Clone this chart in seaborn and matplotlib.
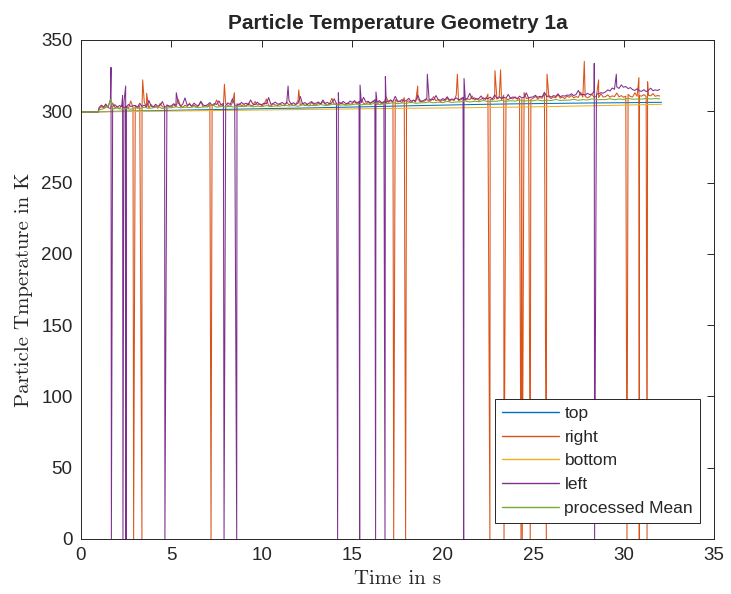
import numpy as np
import pandas as pd
import seaborn as sns
from matplotlib import pyplot as plt

# sensor names + matlab default colours
sensors = ["top", "right", "bottom", "left", "processed Mean"]
colors = ["#0072BD", "#D95319", "#EDB120", "#7E2F8E", "#77AC30"]

# flat start before the measurement kicks in
start_t = [0.0, 0.95]
start_v = [299.5, 299.5]

# smooth sensors (top / bottom)
smooth_t = [1.0, 2, 4, 6, 8, 10, 12, 14, 16, 18, 20, 22, 24, 26, 28, 30, 32.1]
top_v = [299.6, 300.0, 300.4, 300.9, 301.3, 301.8, 302.2, 302.7, 303.2,
         303.8, 304.3, 304.8, 305.2, 305.5, 305.8, 306.0, 306.3]
bottom_v = [299.5, 299.7, 300.0, 300.3, 300.6, 300.9, 301.2, 301.5, 301.8,
            302.1, 302.3, 302.6, 302.9, 303.3, 303.8, 304.3, 304.9]

# noisy sensors, one sample every 0.125 s from 1.0 s to 32.0 s
right_v = [
    301.8, 303.4, 302.1, 304.0, 302.5, 301.9, 305.8, 302.6, 303.1, 301.7, 304.4, 302.3, 303.6, 302.0, 307.2, 302.8,
    303.5, 302.2, 304.1, 302.7, 306.3, 303.0, 302.4, 304.8, 302.9, 303.7, 302.1, 305.5, 303.2, 302.6, 304.0, 303.3,
    302.9, 304.6, 303.1, 308.4, 303.6, 302.8, 304.2, 303.4, 305.7, 303.0, 304.4, 302.9, 303.8, 306.6, 303.2, 304.1,
    303.4, 305.0, 303.8, 304.5, 307.9, 303.6, 304.9, 303.5, 305.3, 304.0, 303.3, 306.1, 304.2, 303.7, 305.4, 303.9,
    304.6, 303.5, 305.8, 304.1, 303.7, 306.9, 304.3, 305.0, 303.8, 304.7, 308.6, 304.0, 303.6, 305.2, 304.4, 303.9,
    305.1, 304.2, 303.8, 306.4, 304.5, 305.3, 303.9, 304.8, 307.4, 304.3, 305.6, 304.0, 304.9, 303.7, 306.2, 304.6,
    304.4, 305.8, 304.7, 306.7, 305.0, 304.2, 305.5, 309.1, 304.8, 305.3, 304.5, 306.0, 305.1, 304.3, 305.9, 304.9,
    305.4, 306.8, 305.0, 305.9, 308.3, 305.6, 304.9, 306.2, 305.3, 307.1, 305.7, 304.8, 306.5, 305.2, 306.0, 310.1,
    306.3, 307.5, 306.1, 308.2, 306.5, 307.0, 306.2, 309.6, 306.8, 307.3, 305.9, 307.8, 306.4, 308.5, 306.7, 307.1,
    307.2, 308.4, 306.9, 307.7, 310.3, 307.4, 308.1, 306.8, 307.9, 307.3, 309.2, 307.0, 308.3, 307.5, 311.4, 307.6,
    308.0, 309.1, 307.7, 308.6, 308.1, 310.8, 307.9, 308.9, 307.6, 308.4, 309.5, 308.2, 312.0, 308.5, 307.9, 309.0,
    308.5, 309.6, 308.2, 311.3, 308.8, 308.1, 309.4, 308.6, 310.2, 308.4, 309.0, 308.7, 313.1, 308.9, 309.3, 308.3,
    309.1, 310.4, 308.8, 309.6, 309.2, 312.5, 309.0, 309.8, 308.9, 310.1, 309.4, 311.7, 309.2, 309.9, 308.9, 310.6,
    309.8, 311.1, 309.5, 310.3, 309.7, 313.4, 309.9, 310.6, 309.4, 310.2, 311.9, 309.8, 310.5, 309.6, 312.3, 310.0,
    310.2, 311.5, 309.9, 310.8, 310.3, 312.8, 310.1, 311.0, 309.8, 310.6, 311.8, 310.4, 310.0, 313.0, 310.5, 310.9,
    310.6, 311.7, 310.3, 311.2, 310.8, 312.4, 310.5, 311.0, 310.7]
left_v = [
    302.6, 304.3, 303.0, 305.1, 302.8, 308.2, 303.4, 304.6, 302.9, 304.0, 303.2, 306.5, 302.7, 304.8, 303.3, 303.9,
    304.1, 302.9, 305.6, 303.4, 304.3, 303.0, 307.6, 303.7, 302.8, 304.9, 303.5, 304.2, 306.8, 303.1, 304.5, 303.6,
    303.8, 305.3, 304.0, 306.0, 303.6, 305.0, 309.4, 304.1, 304.8, 303.7, 305.7, 304.3, 303.9, 307.0, 304.5, 303.8,
    304.6, 306.1, 304.2, 305.4, 304.8, 307.3, 304.4, 305.6, 304.1, 305.9, 304.7, 308.8, 304.5, 305.2, 304.3, 306.2,
    304.9, 305.7, 304.4, 307.9, 305.1, 304.6, 306.3, 305.0, 304.7, 305.8, 305.2, 309.6, 304.8, 305.5, 306.4, 305.0,
    305.3, 306.2, 304.9, 305.8, 307.5, 305.1, 306.0, 304.8, 305.6, 310.4, 305.2, 306.1, 304.9, 305.7, 306.8, 305.4,
    305.7, 306.5, 305.2, 307.9, 305.4, 306.3, 305.0, 306.0, 308.7, 305.5, 306.4, 305.3, 306.9, 305.6, 305.1, 307.2,
    306.2, 307.4, 305.9, 306.8, 306.1, 309.8, 306.4, 307.0, 305.8, 306.6, 308.1, 306.3, 307.5, 306.0, 306.7, 306.2,
    307.1, 308.0, 306.8, 310.5, 307.3, 306.9, 308.2, 307.0, 307.6, 309.1, 306.9, 307.8, 307.2, 311.2, 307.4, 307.0,
    308.0, 309.1, 307.8, 308.6, 307.9, 311.0, 308.3, 307.7, 308.9, 308.1, 310.2, 307.9, 308.6, 308.2, 309.4, 308.0,
    308.7, 309.8, 308.3, 309.2, 312.6, 308.6, 309.4, 308.5, 309.0, 310.7, 308.4, 309.3, 308.8, 309.9, 308.6, 311.5,
    309.2, 310.1, 308.9, 309.7, 309.3, 311.8, 309.1, 310.0, 309.5, 308.9, 310.6, 309.4, 309.8, 312.9, 309.2, 309.9,
    310.0, 311.2, 309.8, 310.5, 310.1, 313.3, 310.3, 310.8, 309.9, 311.0, 310.4, 312.2, 310.2, 310.9, 310.6, 311.4,
    311.2, 312.3, 311.0, 311.8, 314.6, 311.5, 312.0, 311.3, 312.6, 311.7, 312.1, 313.8, 311.9, 312.4, 313.0, 312.7,
    313.6, 315.0, 314.2, 316.3, 315.4, 317.1, 316.0, 318.5, 316.8, 317.4, 315.9, 316.6, 315.2, 314.6, 315.8, 314.3,
    314.0, 315.1, 313.8, 314.7, 316.2, 314.4, 315.0, 314.6, 315.3]

# single-sample spikes (peaks and sensor dropouts to 0 K)
right_spike_t = [2.91, 3.37, 3.41, 3.63, 7.19, 7.93, 8.48, 12.04, 17.29, 17.95,
                 18.62, 20.81, 22.61, 22.89, 23.20, 23.39, 24.33, 24.40, 24.84,
                 25.73, 25.77, 27.83, 28.62, 30.19, 30.85, 30.87, 31.30, 31.33]
right_spike_v = [0, 0, 322.0, 312.6, 0, 319.0, 313.0, 315.0, 0, 0,
                 317.7, 326.0, 0, 328.5, 329.0, 0, 0, 0, 0,
                 0, 326.0, 335.0, 322.0, 0, 323.6, 0, 0, 320.7]
left_spike_t = [1.66, 1.68, 2.30, 2.32, 2.47, 2.49, 4.64, 5.27, 7.91, 8.61,
                11.45, 14.19, 14.23, 15.41, 15.43, 16.29, 16.31, 16.81, 16.83,
                19.15, 21.16, 21.18, 28.38, 28.40, 29.60]
left_spike_v = [330.8, 0, 311.0, 0, 317.7, 0, 0, 313.0, 0, 0,
                317.7, 0, 313.0, 0, 318.4, 0, 313.5, 0, 324.3,
                326.0, 0, 323.0, 333.6, 0, 326.0]

# processed mean, one sample every 0.25 s from 1.0 s to 32.0 s
mean_v = [
    300.9, 301.8, 303.6, 301.6, 302.3, 301.5, 302.0, 301.4,
    302.5, 301.9, 302.8, 302.0, 302.4, 303.4, 301.9, 302.3,
    302.5, 303.1, 302.4, 302.9, 302.6, 303.2, 302.5, 303.0,
    303.0, 304.6, 302.9, 303.3, 303.0, 303.5, 302.8, 303.4,
    303.3, 303.8, 303.1, 303.6, 303.2, 304.0, 303.3, 303.7,
    303.6, 304.3, 303.7, 304.0, 303.5, 304.5, 303.9, 304.1,
    304.0, 304.7, 304.1, 304.4, 305.2, 304.2, 304.5, 304.3,
    304.6, 305.2, 304.5, 305.0, 304.8, 305.6, 304.7, 305.3,
    305.4, 306.0, 305.3, 305.8, 305.5, 306.4, 305.6, 305.9,
    306.0, 306.6, 305.9, 306.4, 306.1, 306.9, 306.2, 306.5,
    306.6, 307.2, 306.5, 307.0, 306.7, 307.5, 306.8, 307.0,
    307.0, 307.6, 306.9, 307.4, 307.1, 307.9, 307.2, 307.4,
    307.4, 308.0, 307.3, 307.8, 307.5, 308.3, 307.6, 307.8,
    307.8, 308.4, 307.7, 308.2, 307.9, 308.7, 308.0, 308.2,
    308.2, 308.8, 308.1, 308.6, 308.3, 309.1, 308.4, 308.6,
    308.5, 309.0, 308.6, 308.9, 308.7]
mean_spike_t = [1.66]
mean_spike_v = [308.6]


def build(t, v, spike_t=(), spike_v=()):
    tt = np.concatenate([start_t, t, spike_t])
    vv = np.concatenate([start_v, v, spike_v])
    order = np.argsort(tt, kind="stable")
    return tt[order], vv[order]


noisy_t = np.arange(len(right_v)) * 0.125 + 1.0
mean_t = np.arange(len(mean_v)) * 0.25 + 1.0

series = {
    "top": build(smooth_t, top_v),
    "right": build(noisy_t, right_v, right_spike_t, right_spike_v),
    "bottom": build(smooth_t, bottom_v),
    "left": build(noisy_t, left_v, left_spike_t, left_spike_v),
    "processed Mean": build(mean_t, mean_v, mean_spike_t, mean_spike_v),
}

frames = []
for name in sensors:
    t, v = series[name]
    frames.append(pd.DataFrame({"time": t, "temp": v, "sensor": name}))
df = pd.concat(frames, ignore_index=True)

sns.set_style("white")
plt.rcParams['font.family'] = ['Liberation Sans', 'DejaVu Sans']

fig = plt.figure(figsize=(7.31, 5.94), dpi=100)
ax = fig.add_axes([0.1108, 0.0926, 0.8659, 0.8401])

sns.lineplot(data=df, x="time", y="temp", hue="sensor", hue_order=sensors,
             palette=colors, estimator=None, sort=True, linewidth=0.75,
             legend=False, ax=ax)

ax.set_xlim(0, 35)
ax.set_ylim(0, 350)
ax.set_xticks(np.arange(0, 36, 5))
ax.set_yticks(np.arange(0, 351, 50))

axcol = "#262626"
for sp in ax.spines.values():
    sp.set_visible(True)
    sp.set_color(axcol)
    sp.set_linewidth(0.7)
ax.tick_params(direction="in", top=True, right=True, length=5, width=0.7,
               color=axcol, labelcolor=axcol, labelsize=13.5, pad=6)

ax.set_title("Particle Temperature Geometry 1a", fontsize=15, fontweight="bold",
             pad=8)
ax.set_xlabel("Time in s", fontfamily="cmr10", fontsize=15, color=axcol, labelpad=4)
ax.set_ylabel("Particle Tmperature in K", fontfamily="cmr10", fontsize=15,
              color=axcol, labelpad=6)

leg = ax.legend(ax.lines[:5], sensors, loc="lower right",
                bbox_to_anchor=(0.978, 0.032), borderaxespad=0, fontsize=12.5,
                handlelength=3.3, handletextpad=0.3, labelspacing=0.5,
                borderpad=0.4, fancybox=False, framealpha=1, edgecolor=axcol)
leg.get_frame().set_linewidth(0.7)
for h in leg.get_lines():
    h.set_linewidth(1.0)

fig.savefig("out.png", dpi=100)
